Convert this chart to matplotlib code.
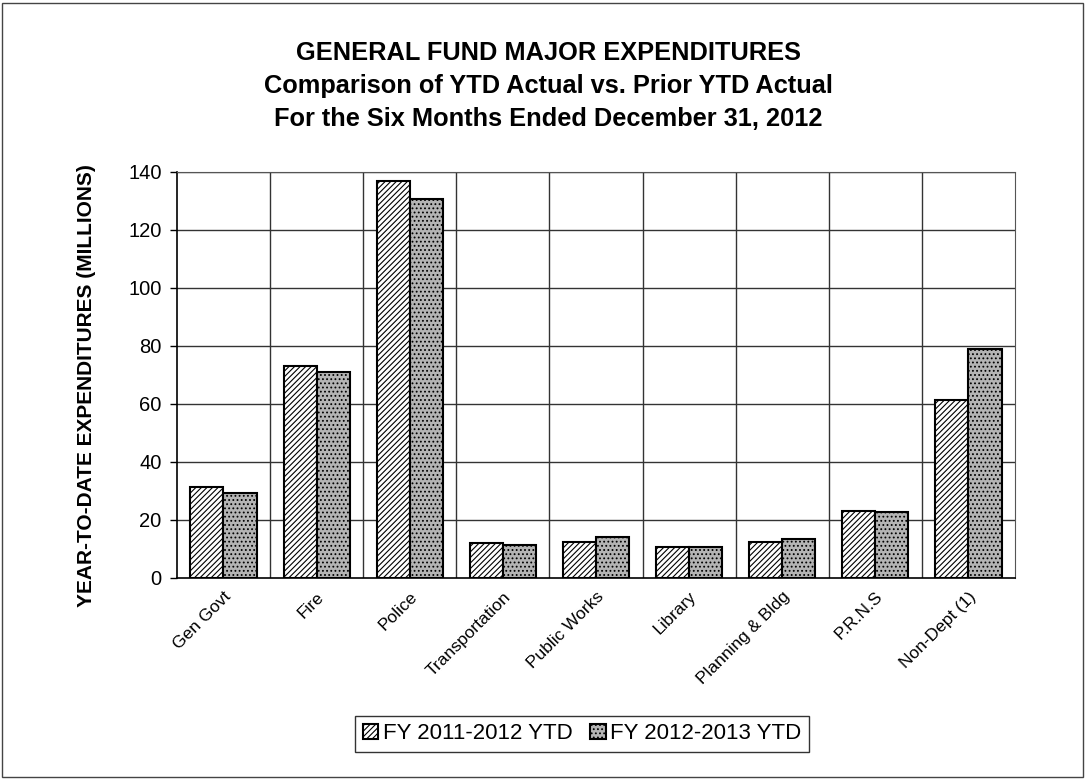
import numpy as np
import matplotlib
matplotlib.use('Agg')
import matplotlib.pyplot as plt
from matplotlib.patches import Rectangle

plt.rcParams['font.family'] = ['Liberation Sans', 'DejaVu Sans']
plt.rcParams['hatch.linewidth'] = 0.8

categories = ['Gen Govt', 'Fire', 'Police', 'Transportation', 'Public Works',
              'Library', 'Planning & Bldg', 'P.R.N.S', 'Non-Dept (1)']
fy_2011_12 = [31.3, 73.2, 137.0, 12.1, 12.4, 10.8, 12.4, 23.2, 61.4]
fy_2012_13 = [29.3, 71.2, 130.6, 11.4, 14.2, 10.6, 13.6, 22.8, 78.9]
series_names = ['FY 2011-2012 YTD', 'FY 2012-2013 YTD']
yticks = [0, 20, 40, 60, 80, 100, 120, 140]

fig = plt.figure(figsize=(10.92, 7.8), dpi=100)
ax = fig.add_axes([0.162, 0.259, 0.7675, 0.5205])

x = np.arange(len(categories))
w = 0.355
ax.bar(x - w / 2, fy_2011_12, w, facecolor='white', edgecolor='black',
       hatch='//////', linewidth=1.5, label=series_names[0], zorder=3)
ax.bar(x + w / 2, fy_2012_13, w, facecolor='#b4b4b4', edgecolor='black',
       hatch='....', linewidth=1.5, label=series_names[1], zorder=3)

ax.set_xlim(-0.5, len(categories) - 0.5)
ax.set_ylim(0, 140)
ax.set_yticks(yticks)
ax.set_yticklabels([str(v) for v in yticks], fontsize=14.5)
ax.set_xticks(x)
ax.set_xticklabels(categories, rotation=45, ha='right', rotation_mode='anchor',
                   fontsize=12.5)
ax.tick_params(axis='x', length=0, pad=8)
ax.tick_params(axis='y', length=5, width=1, pad=6)

# grid: horizontal at ticks, vertical between categories
for yv in yticks[1:]:
    ax.axhline(yv, color='#333333', linewidth=1.0, zorder=1)
for xv in np.arange(0.5, len(categories) - 1, 1.0):
    ax.axvline(xv, color='#333333', linewidth=1.0, zorder=1)

for s in ['top', 'right']:
    ax.spines[s].set_color('#555555')
    ax.spines[s].set_linestyle((0, (1, 1)))
ax.spines['left'].set_linewidth(1.2)
ax.spines['bottom'].set_linewidth(1.2)

ax.set_ylabel('YEAR-TO-DATE EXPENDITURES (MILLIONS)', fontsize=15,
              fontweight='bold')
ax.yaxis.set_label_coords(-0.096, 0.475)

title_lines = ['GENERAL FUND MAJOR EXPENDITURES',
               'Comparison of YTD Actual vs. Prior YTD Actual',
               'For the Six Months Ended December 31, 2012']
for i, line in enumerate(title_lines):
    fig.text(0.502, 0.932 - i * 0.042, line, ha='center', va='center',
             fontsize=18.3, fontweight='bold')

leg = fig.legend(loc='center', bbox_to_anchor=(0.533, 0.059), ncol=2,
                 fontsize=16, frameon=True, fancybox=False,
                 handlelength=0.7, handleheight=0.7, handletextpad=0.2,
                 columnspacing=0.8, borderpad=0.35)
leg.get_frame().set_edgecolor('black')
leg.get_frame().set_linewidth(1.0)

fig.patches.append(Rectangle((0.002, 0.004), 0.99, 0.992, transform=fig.transFigure,
                             fill=False, edgecolor='#444444', linewidth=1.0))

fig.savefig('out.png', dpi=100)
